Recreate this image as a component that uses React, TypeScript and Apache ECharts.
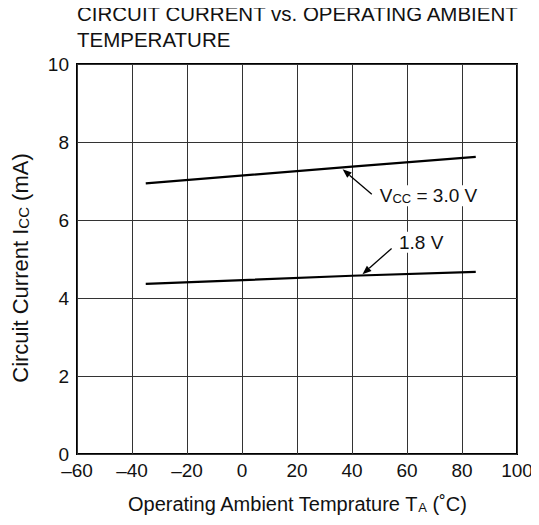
import React, { useEffect, useRef } from "react";
import * as echarts from "echarts";

const titleLines = ["CIRCUIT CURRENT vs. OPERATING AMBIENT", "TEMPERATURE"];
const temps = [-35, 40, 85];
const icc30 = [6.94, 7.37, 7.62];
const icc18 = [4.36, 4.57, 4.67];
const xTicks = [-60, -40, -20, 0, 20, 40, 60, 80, 100];
const yTicks = [0, 2, 4, 6, 8, 10];
// annotation anchors in data coords: [tailX, tailY, headX, headY, textX, textY]
const ann30 = [47.2, 6.66, 36.6, 7.3, 49.0, 6.62];
const ann18 = [54.4, 5.27, 43.8, 4.61, 56.0, 5.43];

const FONT = "'Liberation Sans', Arial, Helvetica, sans-serif";

export default function App() {
  const ref = useRef<HTMLDivElement>(null);
  useEffect(() => {
    const chart = echarts.init(ref.current!, null, { renderer: "svg" });
    const pair = (xs: number[], ys: number[]) => xs.map((x, i) => [x, ys[i]]);
    const lineSeries = (name: string, ys: number[]) => ({
      name,
      type: "line",
      data: pair(temps, ys),
      showSymbol: false,
      symbol: "none",
      lineStyle: { color: "#000", width: 2.2 },
      silent: true,
    });
    const sub = { fontSize: 13, color: "#111", fontFamily: FONT, verticalAlign: "bottom", padding: [6, 0, 0, 0] };
    chart.setOption({
      animation: false,
      backgroundColor: "#fff",
      textStyle: { fontFamily: FONT },
      title: {
        text: titleLines.join("\n"),
        left: 77,
        top: 0,
        padding: 0,
        textStyle: { fontSize: 20.5, fontWeight: "normal", color: "#111", lineHeight: 26, fontFamily: FONT },
      },
      grid: {
        left: 77,
        right: 22,
        top: 64,
        bottom: 71,
        show: true,
        borderColor: "#000",
        borderWidth: 2,
        containLabel: false,
      },
      xAxis: {
        type: "value",
        min: xTicks[0],
        max: xTicks[xTicks.length - 1],
        interval: 20,
        axisLine: { show: false },
        axisTick: { show: false },
        splitLine: { show: true, lineStyle: { color: "#333", width: 1 } },
        axisLabel: {
          fontSize: 19,
          color: "#111",
          margin: 7,
          fontFamily: FONT,
          formatter: (v: number) => (v < 0 ? "\u2013" + Math.abs(v) : String(v)),
        },
        name: "Operating Ambient Temprature T{s|A} (˚C)",
        nameLocation: "middle",
        nameGap: 40,
        nameTextStyle: { fontSize: 20, color: "#111", fontFamily: FONT, rich: { s: sub } },
      },
      yAxis: {
        type: "value",
        min: yTicks[0],
        max: yTicks[yTicks.length - 1],
        interval: 2,
        axisLine: { show: false },
        axisTick: { show: false },
        splitLine: { show: true, lineStyle: { color: "#333", width: 1 } },
        axisLabel: { fontSize: 19, color: "#111", margin: 8, fontFamily: FONT },
      },
      series: [lineSeries("3.0 V", icc30), lineSeries("1.8 V", icc18)],
    });

    const px = (x: number, y: number) => chart.convertToPixel({ gridIndex: 0 }, [x, y]) as number[];
    const arrow = (a: number[]) => {
      const t = px(a[0], a[1]);
      const h = px(a[2], a[3]);
      const dx = h[0] - t[0];
      const dy = h[1] - t[1];
      const len = Math.hypot(dx, dy);
      const ux = dx / len;
      const uy = dy / len;
      const hl = 9;
      const hw = 3.5;
      const bx = h[0] - ux * hl;
      const by = h[1] - uy * hl;
      return [
        { type: "line", shape: { x1: t[0], y1: t[1], x2: bx, y2: by }, style: { stroke: "#000", lineWidth: 1.3 }, z: 10 },
        {
          type: "polygon",
          shape: { points: [[h[0], h[1]], [bx - uy * hw, by + ux * hw], [bx + uy * hw, by - ux * hw]] },
          style: { fill: "#000" },
          z: 10,
        },
      ];
    };
    const label = (a: number[], text: string) => {
      const p = px(a[4], a[5]);
      return {
        type: "text",
        x: p[0],
        y: p[1],
        z: 11,
        style: {
          text,
          fontSize: 19,
          fontFamily: FONT,
          fill: "#111",
          verticalAlign: "middle",
          align: "left",
          backgroundColor: "#fff",
          padding: [1, 3, 1, 3],
          rich: {
            s: { fontSize: 13, fontFamily: FONT, fill: "#111", verticalAlign: "bottom", padding: [6, 0, 0, 0], backgroundColor: "#fff" },
          },
        },
      };
    };
    chart.setOption({
      graphic: [
        ...arrow(ann30),
        ...arrow(ann18),
        label(ann30, "V{s|CC} = 3.0 V"),
        label(ann18, "1.8 V"),
        {
          type: "text",
          x: 20,
          y: 268,
          rotation: Math.PI / 2,
          style: {
            text: "Circuit Current I{s|CC} (mA)",
            fontSize: 22,
            fontFamily: FONT,
            fill: "#111",
            align: "center",
            verticalAlign: "middle",
            rich: { s: { fontSize: 15, fontFamily: FONT, fill: "#111", verticalAlign: "bottom", padding: [7, 0, 0, 0] } },
          },
        },
      ],
    });
    return () => chart.dispose();
  }, []);
  return <div ref={ref} style={{ width: 539, height: 525, margin: -8 }} />;
}
